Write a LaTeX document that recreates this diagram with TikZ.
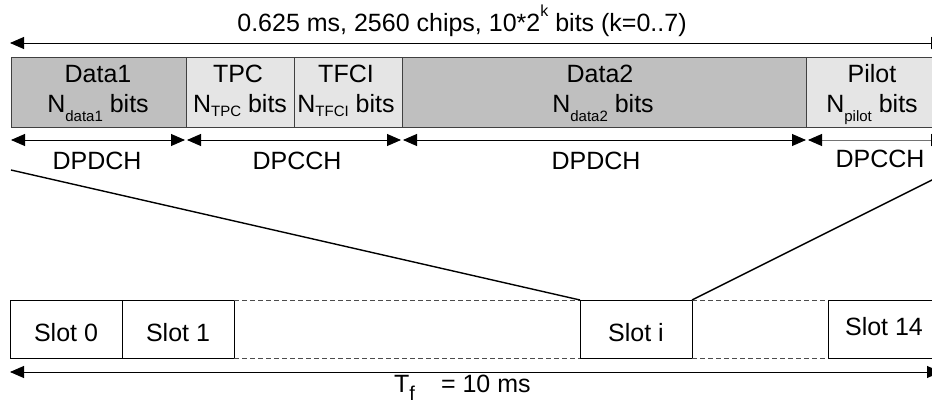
\documentclass[tikz,border=0pt]{standalone}
\usepackage{fontspec}
\setmainfont{Liberation Sans}
\usetikzlibrary{arrows.meta}
\newcommand\lsub[2]{\raisebox{-#2pt}{\fontsize{15}{15}\selectfont #1}}
\newcommand\hsup[1]{\raisebox{15pt}{\fontsize{16}{16}\selectfont #1}}
\begin{document}
\begin{tikzpicture}[x=1pt,y=-1pt,
  font=\fontsize{25}{30}\selectfont,
  seg/.style={draw=black!75, line width=0.8pt, inner sep=0pt, outer sep=0pt, anchor=north west, minimum height=70pt},
  datbox/.style={seg, fill=black!25},
  ctlbox/.style={seg, fill=black!10},
  lab/.style={anchor=base, inner sep=0pt, outer sep=0pt},
  tipA/.tip={Triangle[length=14pt,width=12pt,color=black]},
  dimline/.style={line width=0.9pt, tipA-tipA},
  slotbox/.style={draw, line width=0.8pt, minimum width=112pt, minimum height=58pt, anchor=north west, inner sep=0pt, outer sep=0pt},
  dashline/.style={draw=black!70, line width=0.8pt, dash pattern=on 5pt off 3pt},
  fan/.style={line width=1.4pt}
]
\useasboundingbox (0,0) rectangle (932,403);
\clip (0,0) rectangle (932,403);

% title and overall arrow
\node[lab] (title) at (462,32) {0.625 ms, 2560 chips, 10*2\hsup{k} bits (k=0..7)};
\coordinate (tl) at (10,43);
\coordinate (tr) at (945,43);
\draw[dimline] (tl) -- (tr);

% slot fields
\node[datbox, minimum width=175pt] (d1) at (11,57) {};
\node[ctlbox, minimum width=108pt] (tpc) at (186,57) {};
\node[ctlbox, minimum width=108pt] (tfci) at (294,57) {};
\node[datbox, minimum width=404pt] (d2) at (402,57) {};
\node[ctlbox, minimum width=139pt] (pil) at (806,57) {};

\node[lab] (d1a) at (98,83) {Data1};
\node[lab] (d1b) at (98,113) {N\lsub{data1}{9} bits};
\node[lab] (tpca) at (238,83) {TPC};
\node[lab] (tpcb) at (240,113) {N\lsub{TPC}{4} bits};
\node[lab] (tfcia) at (346,83) {TFCI};
\node[lab] (tfcib) at (346,113) {N\lsub{TFCI}{4} bits};
\node[lab] (d2a) at (600,83) {Data2};
\node[lab] (d2b) at (603,113) {N\lsub{data2}{9} bits};
\node[lab] (pila) at (872,83) {Pilot};
\node[lab] (pilb) at (872,113) {N\lsub{pilot}{9} bits};

% channel arrows
\draw[dimline] ([yshift=-13pt]d1.south west) -- ([yshift=-13pt,xshift=-1pt]d1.south east);
\draw[dimline] ([yshift=-13pt,xshift=1pt]tpc.south west) -- ([yshift=-13pt,xshift=-1pt]tfci.south east);
\draw[dimline] ([yshift=-13pt,xshift=1pt]d2.south west) -- ([yshift=-13pt]d2.south east);
\draw[dimline, draw=black!55] ([yshift=-13pt,xshift=2pt]pil.south west) -- ([yshift=-13pt]pil.south east);

\node[lab] (c1) at (97,170) {DPDCH};
\node[lab] (c2) at (297,170) {DPCCH};
\node[lab] (c3) at (596,170) {DPDCH};
\node[lab] (c4) at (880,168) {DPCCH};

% frame slots
\node[slotbox, text height=28pt, text depth=2pt] (s0) at (10,300) {Slot 0};
\node[slotbox, text height=28pt, text depth=2pt] (s1) at (122,300) {Slot 1};
\node[slotbox, text height=28pt, text depth=2pt] (si) at (580,300) {Slot i};
\node[slotbox, text height=16pt, text depth=2pt] (s14) at (828,300) {Slot 14};

\draw[dashline] (s1.north east) -- (si.north west);
\draw[dashline] (s1.south east) -- (si.south west);
\draw[dashline] (si.north east) -- (s14.north west);
\draw[dashline] (si.south east) -- (s14.south west);

% fan lines
\coordinate (fl) at (11,170);
\coordinate (fr) at (952,170);
\draw[fan] (fl) -- (si.north west);
\draw[fan] (si.north east) -- (fr);

% frame arrow
\coordinate (bl) at (10,372);
\coordinate (br) at (941,372);
\draw[dimline] (bl) -- (br);
\node[anchor=base west, inner sep=0pt] (tf) at (394,392) {T\raisebox{-8pt}{\fontsize{20}{20}\selectfont f}\hspace{26pt}= 10 ms};
\end{tikzpicture}
\end{document}
